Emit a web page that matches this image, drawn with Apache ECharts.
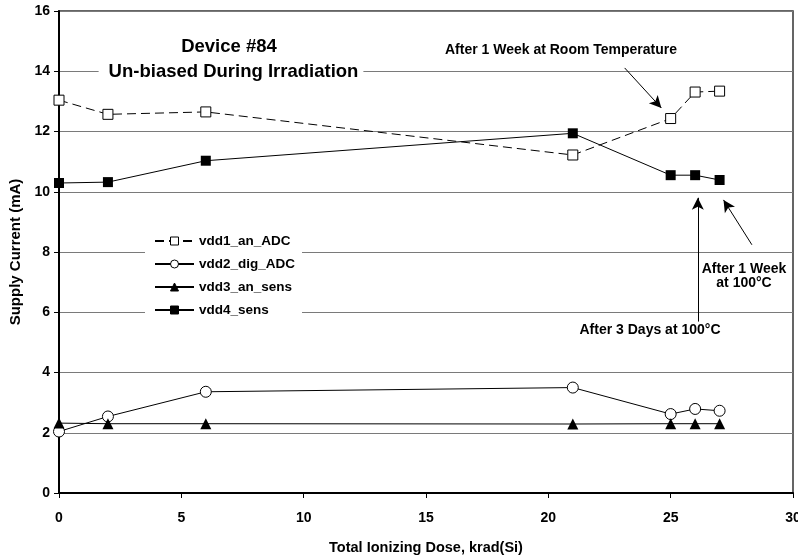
<!DOCTYPE html>
<html>
<head>
<meta charset="utf-8">
<script src="https://cdn.jsdelivr.net/npm/echarts@6/dist/echarts.min.js"></script>
<style>
  html, body { margin: 0; padding: 0; background: #fff; }
  #chart { width: 798px; height: 557px; }
</style>
</head>
<body>
<div id="chart"></div>
<script>
// Total ionizing dose, krad(Si)
const dose = [0, 2, 6, 21, 25, 26, 27];

// Supply current (mA) per supply rail
const vdd1_an_ADC  = [13.04, 12.57, 12.65, 11.22, 12.43, 13.31, 13.34];
const vdd2_dig_ADC = [2.04, 2.54, 3.36, 3.50, 2.62, 2.79, 2.73];
const vdd3_an_sens = [2.32, 2.30, 2.30, 2.29, 2.30, 2.30, 2.30];
const vdd4_sens    = [10.29, 10.32, 11.03, 11.94, 10.55, 10.55, 10.39];

const seriesNames = ['vdd1_an_ADC', 'vdd2_dig_ADC', 'vdd3_an_sens', 'vdd4_sens'];

// Axis ticks
const xTicks = { min: 0, max: 30, interval: 5 };
const yTicks = { min: 0, max: 16, interval: 2 };

// Annotation arrows in data coordinates: [fromX, fromY, toX, toY]
const arrows = [
  [23.12, 14.11, 24.62, 12.78],
  [26.11, 5.69, 26.11, 9.80],
  [28.32, 8.24, 27.16, 9.73]
];

const FONT = '"Liberation Sans", Arial, sans-serif';

function pairs(xs, ys) { return xs.map((x, i) => [x, ys[i]]); }

const chart = echarts.init(document.getElementById('chart'), null, { renderer: 'canvas' });

const baseLine = { color: '#000', width: 1 };

const option = {
  animation: false,
  backgroundColor: '#fff',
  grid: {
    left: 59, right: 5, top: 11, bottom: 64,
    containLabel: false, outerBoundsMode: 'none',
    show: true, borderColor: '#333', borderWidth: 1.5, backgroundColor: 'transparent'
  },
  xAxis: {
    type: 'value',
    min: xTicks.min, max: xTicks.max, interval: xTicks.interval,
    name: 'Total Ionizing Dose, krad(Si)',
    nameLocation: 'middle', nameGap: 47,
    nameTextStyle: { fontFamily: FONT, fontWeight: 'bold', fontSize: 14.5, color: '#000' },
    axisLine: { show: true, lineStyle: { color: '#000', width: 2 } },
    axisTick: { show: true, length: 5, lineStyle: { color: '#000', width: 1 } },
    axisLabel: { margin: 18, fontFamily: FONT, fontWeight: 'bold', fontSize: 14, color: '#000' },
    splitLine: { show: false }
  },
  yAxis: {
    type: 'value',
    min: yTicks.min, max: yTicks.max, interval: yTicks.interval,
    name: 'Supply Current (mA)',
    nameLocation: 'middle', nameGap: 33,
    nameTextStyle: { fontFamily: FONT, fontWeight: 'bold', fontSize: 15, color: '#000' },
    axisLine: { show: true, lineStyle: { color: '#000', width: 2 } },
    axisTick: { show: true, length: 5, lineStyle: { color: '#000', width: 1 } },
    axisLabel: { margin: 9, fontFamily: FONT, fontWeight: 'bold', fontSize: 14, color: '#000' },
    splitLine: { show: true, lineStyle: { color: '#7a7a7a', width: 1.2 } }
  },
  legend: {
    data: seriesNames,
    orient: 'vertical',
    left: 145, top: 227,
    backgroundColor: '#fff',
    padding: [7, 7, 7, 9],
    itemWidth: 39, itemHeight: 10, itemGap: 9,
    itemTextGap: 4,
    textStyle: { fontFamily: FONT, fontWeight: 'bold', fontSize: 13.5, color: '#000', lineHeight: 14 },
    itemStyle: { borderWidth: 1 }
  },
  graphic: [
    {
      type: 'text', z: 100,
      style: {
        text: 'Device #84', x: 229, y: 47, align: 'center', verticalAlign: 'middle',
        font: 'bold 18.5px ' + FONT, fill: '#000'
      }
    },
    {
      type: 'text', z: 100,
      style: {
        text: 'Un-biased During Irradiation', x: 231, y: 72, align: 'center', verticalAlign: 'middle',
        font: 'bold 18.5px ' + FONT, fill: '#000', backgroundColor: '#fff', padding: [2, 5, 2, 10]
      }
    },
    {
      type: 'text', z: 100,
      style: {
        text: 'After 1 Week at Room Temperature', x: 561, y: 50, align: 'center', verticalAlign: 'middle',
        font: 'bold 14px ' + FONT, fill: '#000'
      }
    },
    {
      type: 'text', z: 100,
      style: {
        text: 'After 1 Week\nat 100°C', x: 744, y: 276, align: 'center', verticalAlign: 'middle',
        font: 'bold 14px ' + FONT, fill: '#000', lineHeight: 14
      }
    },
    {
      type: 'text', z: 100,
      style: {
        text: 'After 3 Days at 100°C', x: 650, y: 330, align: 'center', verticalAlign: 'middle',
        font: 'bold 14px ' + FONT, fill: '#000'
      }
    }
  ],
  series: [
    {
      name: seriesNames[0], type: 'line', data: pairs(dose, vdd1_an_ADC),
      symbol: 'rect', symbolSize: 10,
      lineStyle: Object.assign({}, baseLine, { type: [9, 5] }),
      itemStyle: { color: '#fff', borderColor: '#000', borderWidth: 1 },
      z: 3
    },
    {
      name: seriesNames[1], type: 'line', data: pairs(dose, vdd2_dig_ADC),
      symbol: 'circle', symbolSize: 11,
      lineStyle: baseLine,
      itemStyle: { color: '#fff', borderColor: '#000', borderWidth: 1 },
      z: 3
    },
    {
      name: seriesNames[2], type: 'line', data: pairs(dose, vdd3_an_sens),
      symbol: 'triangle', symbolSize: 11,
      lineStyle: baseLine,
      itemStyle: { color: '#000', borderColor: '#000', borderWidth: 0 },
      z: 3
    },
    {
      name: seriesNames[3], type: 'line', data: pairs(dose, vdd4_sens),
      symbol: 'rect', symbolSize: 10,
      lineStyle: baseLine,
      itemStyle: { color: '#000', borderColor: '#000', borderWidth: 0 },
      z: 3
    },
    {
      // annotation arrows
      name: 'arrows', type: 'line', data: [], silent: true,
      markLine: {
        silent: true, animation: false,
        symbol: ['none', 'arrow'], symbolSize: [9, 12],
        lineStyle: { color: '#000', width: 1, type: 'solid' },
        label: { show: false },
        data: arrows.map(a => [{ coord: [a[0], a[1]] }, { coord: [a[2], a[3]] }])
      },
      z: 4
    }
  ]
};

chart.setOption(option);
</script>
</body>
</html>
